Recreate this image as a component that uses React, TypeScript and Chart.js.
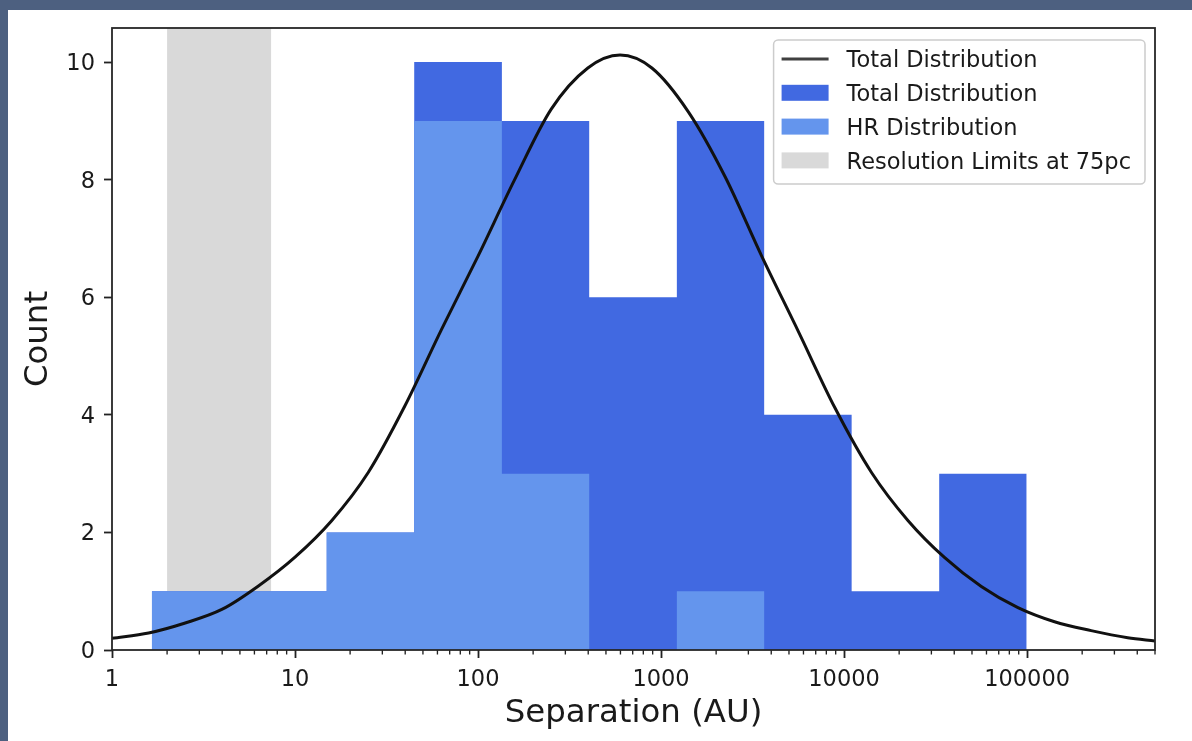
import React, { useEffect, useRef } from 'react';
import { Chart, registerables } from 'chart.js';

Chart.register(...registerables);

// ---- data ----
const binEdges = [1.65, 4.95, 14.9, 44.8, 135, 405, 1220, 3660, 11000, 33100, 99500];
const totalCounts = [1, 1, 2, 10, 9, 6, 9, 4, 1, 3];
const hrCounts = [1, 1, 2, 9, 3, 0, 1, 0, 0, 0];

const curveX = [1, 1.585, 2.512, 3.981, 6.31, 10, 15.85, 25.12, 39.81, 63.1, 100, 158.5, 251.2, 398.1, 597, 891, 1413, 2239, 3548, 5623, 8913, 14125, 22387, 35481, 56234, 89125, 141254, 223872, 354813, 500000];
const curveY = [0.2, 0.29, 0.46, 0.69, 1.09, 1.58, 2.2, 3.02, 4.15, 5.45, 6.7, 8.0, 9.2, 9.9, 10.12, 9.9, 9.15, 8.05, 6.7, 5.42, 4.12, 3.02, 2.2, 1.57, 1.08, 0.72, 0.48, 0.33, 0.21, 0.155];

const resolutionBand = [2.0, 7.4];

const xTickValues = [1, 10, 100, 1000, 10000, 100000];
const xTickLabels = ['1', '10', '100', '1000', '10000', '100000'];
const yTickValues = [0, 2, 4, 6, 8, 10];
const yTickLabels = ['0', '2', '4', '6', '8', '10'];
const minorMultipliers = [2, 3, 4, 5, 6, 7, 8, 9];

const legendLabels = ['Total Distribution', 'Total Distribution', 'HR Distribution', 'Resolution Limits at 75pc'];

const X_MIN = 1;
const X_MAX = 500000;
const Y_MIN = 0;
const Y_MAX = 10.58;

// ---- styles ----
const FONT = '"DejaVu Sans", "Liberation Sans", sans-serif';
const TICK_SIZE = 22.5;
const TITLE_SIZE = 32.4;
const TEXT_COLOR = '#1a1a1a';
const ROYAL = '#4169E1';
const CORNFLOWER = '#6495ED';
const BAND = '#d9d9d9';

function stepPoints(edges: number[], counts: number[]) {
  const pts: { x: number; y: number }[] = [{ x: edges[0], y: 0 }];
  counts.forEach((c, i) => pts.push({ x: edges[i], y: c }));
  pts.push({ x: edges[edges.length - 1], y: 0 });
  return pts;
}

const bandPlugin = {
  id: 'bandPlugin',
  beforeDatasetsDraw(chart: any) {
    const { ctx, chartArea: ca } = chart;
    const xs = chart.scales.x;
    const x0 = xs.getPixelForValue(resolutionBand[0]);
    const x1 = xs.getPixelForValue(resolutionBand[1]);
    ctx.save();
    ctx.fillStyle = BAND;
    ctx.fillRect(x0, ca.top, x1 - x0, ca.bottom - ca.top);
    ctx.restore();
  },
};

const framePlugin = {
  id: 'framePlugin',
  afterDatasetsDraw(chart: any) {
    const { ctx, chartArea: ca } = chart;
    const xs = chart.scales.x;
    ctx.save();
    ctx.strokeStyle = '#222';
    ctx.lineWidth = 1.35;
    ctx.beginPath();
    for (let dec = 1; dec <= X_MAX; dec *= 10) {
      for (const m of minorMultipliers) {
        const v = m * dec;
        if (v > X_MAX) continue;
        const px = xs.getPixelForValue(v);
        ctx.moveTo(px, ca.bottom);
        ctx.lineTo(px, ca.bottom + 4.5);
      }
    }
    ctx.stroke();
    ctx.strokeStyle = '#262626';
    ctx.lineWidth = 1.8;
    ctx.strokeRect(ca.left, ca.top, ca.right - ca.left, ca.bottom - ca.top);
    ctx.restore();
  },
};

const legendPlugin = {
  id: 'customLegend',
  afterDatasetsDraw(chart: any) {
    const { ctx, chartArea: ca } = chart;
    ctx.save();
    ctx.font = `${TICK_SIZE}px ${FONT}`;
    const textW = Math.max(...legendLabels.map((t) => ctx.measureText(t).width));
    const padL = 8;
    const handleW = 47;
    const gap = 18;
    const padR = 14;
    const boxW = padL + handleW + gap + textW + padR;
    const boxH = 144;
    const boxRight = ca.right - 10;
    const boxTop = ca.top + 12;
    const boxLeft = boxRight - boxW;
    const r = 4.5;
    ctx.beginPath();
    ctx.moveTo(boxLeft + r, boxTop);
    ctx.lineTo(boxRight - r, boxTop);
    ctx.arcTo(boxRight, boxTop, boxRight, boxTop + r, r);
    ctx.lineTo(boxRight, boxTop + boxH - r);
    ctx.arcTo(boxRight, boxTop + boxH, boxRight - r, boxTop + boxH, r);
    ctx.lineTo(boxLeft + r, boxTop + boxH);
    ctx.arcTo(boxLeft, boxTop + boxH, boxLeft, boxTop + boxH - r, r);
    ctx.lineTo(boxLeft, boxTop + r);
    ctx.arcTo(boxLeft, boxTop, boxLeft + r, boxTop, r);
    ctx.closePath();
    ctx.fillStyle = 'rgba(255,255,255,0.8)';
    ctx.fill();
    ctx.strokeStyle = '#cccccc';
    ctx.lineWidth = 1.5;
    ctx.stroke();

    const handleX = boxLeft + padL;
    const textX = handleX + handleW + gap;
    const swatchColors = [null, ROYAL, CORNFLOWER, BAND];
    legendLabels.forEach((label, i) => {
      const y = boxTop + 19 + i * 33.8;
      if (i === 0) {
        ctx.strokeStyle = '#404040';
        ctx.lineWidth = 3;
        ctx.beginPath();
        ctx.moveTo(handleX, y);
        ctx.lineTo(handleX + handleW, y);
        ctx.stroke();
      } else {
        ctx.fillStyle = swatchColors[i] as string;
        ctx.fillRect(handleX, y - 8, handleW, 16);
      }
      ctx.fillStyle = TEXT_COLOR;
      ctx.textBaseline = 'alphabetic';
      ctx.textAlign = 'left';
      ctx.fillText(label, textX, y + 0.3645 * TICK_SIZE);
    });
    ctx.restore();
  },
};

export default function App() {
  const ref = useRef<HTMLCanvasElement>(null);

  useEffect(() => {
    const body = document.body;
    body.style.margin = '10px 0 0 8px';
    body.style.background = '#4d6080';
    body.style.overflow = 'hidden';

    Chart.defaults.font.family = FONT;

    const gridOpts = {
      drawOnChartArea: false,
      drawTicks: true,
      tickLength: 8,
      tickWidth: 1.8,
      tickColor: '#222',
    };

    const chart = new Chart(ref.current as HTMLCanvasElement, {
      type: 'line',
      data: {
        datasets: [
          {
            label: 'Total Distribution (fit)',
            data: curveX.map((x, i) => ({ x, y: curveY[i] })),
            borderColor: '#111111',
            borderWidth: 3,
            cubicInterpolationMode: 'monotone',
            fill: false,
            pointRadius: 0,
            order: 0,
          },
          {
            label: 'HR Distribution',
            data: stepPoints(binEdges, hrCounts),
            stepped: 'before',
            fill: 'origin',
            backgroundColor: CORNFLOWER,
            borderColor: 'rgba(0,0,0,0)',
            borderWidth: 0,
            pointRadius: 0,
            order: 1,
          },
          {
            label: 'Total Distribution',
            data: stepPoints(binEdges, totalCounts),
            stepped: 'before',
            fill: 'origin',
            backgroundColor: ROYAL,
            borderColor: 'rgba(0,0,0,0)',
            borderWidth: 0,
            pointRadius: 0,
            order: 2,
          },
        ] as any,
      },
      options: {
        animation: false,
        responsive: false,
        events: [],
        layout: { padding: { top: 18, right: 37, left: 0, bottom: 0 } },
        plugins: {
          legend: { display: false },
          tooltip: { enabled: false },
        },
        scales: {
          x: {
            type: 'logarithmic',
            min: X_MIN,
            max: X_MAX,
            afterBuildTicks: (s: any) => {
              s.ticks = xTickValues.map((v) => ({ value: v }));
            },
            afterFit: (s: any) => {
              s.height = 91;
              s.paddingLeft = 0;
              s.paddingRight = 0;
            },
            grid: gridOpts,
            border: { display: false },
            ticks: {
              autoSkip: false,
              maxRotation: 0,
              minRotation: 0,
              padding: 9,
              color: TEXT_COLOR,
              font: { family: FONT, size: TICK_SIZE },
              callback: (_v: any, i: number) => xTickLabels[i],
            },
            title: {
              display: true,
              text: 'Separation (AU)',
              color: TEXT_COLOR,
              font: { family: FONT, size: TITLE_SIZE },
              padding: { top: 0, bottom: 8 },
            },
          },
          y: {
            type: 'linear',
            min: Y_MIN,
            max: Y_MAX,
            afterBuildTicks: (s: any) => {
              s.ticks = yTickValues.map((v) => ({ value: v }));
            },
            afterFit: (s: any) => {
              s.width = 104;
              s.paddingTop = 0;
              s.paddingBottom = 0;
            },
            grid: gridOpts,
            border: { display: false },
            ticks: {
              padding: 9,
              labelOffset: 2,
              color: TEXT_COLOR,
              font: { family: FONT, size: TICK_SIZE },
              callback: (_v: any, i: number) => yTickLabels[i],
            },
            title: {
              display: true,
              text: 'Count',
              color: TEXT_COLOR,
              font: { family: FONT, size: TITLE_SIZE },
              padding: { top: 11, bottom: 0 },
            },
          },
        },
      } as any,
      plugins: [bandPlugin, framePlugin, legendPlugin],
    });

    return () => chart.destroy();
  }, []);

  return (
    <div style={{ width: 1184, height: 731, background: '#ffffff' }}>
      <canvas ref={ref} width={1184} height={731} style={{ display: 'block' }} />
    </div>
  );
}
